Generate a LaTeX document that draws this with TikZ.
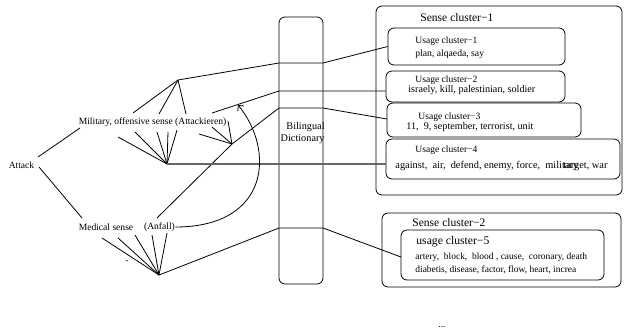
\documentclass[tikz,border=0pt]{standalone}
\usepackage{fontspec}
\setmainfont{Liberation Serif}
\usetikzlibrary{positioning,fit,arrows.meta}
\tikzset{>={Straight Barb[length=4bp,width=8bp]}}

\begin{document}
\begin{tikzpicture}[x=1bp,y=-1bp,line width=0.8bp,
    box/.style={draw,rounded corners=6bp,inner sep=0pt},
    txt/.style={inner sep=0pt,font=\fontsize{#1}{#1}\selectfont},
    txt/.default=9.6,
    hl/.style={draw=black!60,line width=1.3bp}]
\useasboundingbox (0,0) rectangle (624,329);

% words on the left
\node[txt] (attack) at (21.5,165) {Attack};
\node[txt] (mil) at (152.5,122) {Military, offensive sense (Attackieren)};
\node[txt] (med) at (106,227) {Medical sense};
\node[txt] (anfall) at (159.5,227) {(Anfall)};
\node[txt] (dash) at (127,262) {-};

% dictionary
\node[box,fit={(279,17) (323,284)}] (dict) {};
\node[txt=10.3,align=right,anchor=east] (dictlbl) at (325,133) {Bilingual\\[1bp]Dictionary};

% sense and usage clusters
\node[box,fit={(376,6) (622,195)}] (sc1) {};
\node[box,fit={(388,28) (565,65)}] (uc1) {};
\node[box,fit={(386,71) (565,102)}] (uc2) {};
\node[box,fit={(387,103) (581,137)}] (uc3) {};
\node[box,fit={(386,139) (620,179)}] (uc4) {};
\node[box,fit={(382,213) (621,287)}] (sc2) {};
\node[box,fit={(401,230) (604,280)}] (uc5) {};

\node[txt=11.6,anchor=west] (sc1lbl) at (420,18) {Sense cluster−1};
\node[txt,anchor=west] (uc1lbl) at (415,41) {Usage cluster−1};
\node[txt=9.7,anchor=west] (uc1w) at (415,54) {plan, alqaeda, say};
\node[txt,anchor=west] (uc2lbl) at (415,80) {Usage cluster−2};
\node[txt=10.2,anchor=west] (uc2w) at (408,90.5) {israely, kill, palestinian, soldier};
\node[txt,anchor=west] (uc3lbl) at (418,117) {Usage cluster−3};
\node[txt=10.2,anchor=west] (uc3w) at (406,127.5) {11,\ \ 9, september, terrorist, unit};
\node[txt,anchor=west] (uc4lbl) at (415,150.5) {Usage cluster−4};
\node[txt=10.4,anchor=west] (uc4w) at (395,166) {against,\ \ air,\ \ defend, enemy, force,\ \ \rlap{military}\hspace{18bp}target, war};
\node[txt=11.6,anchor=west] (sc2lbl) at (412,223) {Sense cluster−2};
\node[txt=11.7,anchor=west] (uc5lbl) at (416,242) {usage cluster−5};
\node[txt=9.5,anchor=west] (uc5w1) at (415,257) {artery,\ \ block,\ \ blood , cause,\ \ coronary, death};
\node[txt=9.5,anchor=west] (uc5w2) at (415,270) {diabetis, disease, factor, flow, heart, increa};
\node[txt,anchor=base] (more) at (442,327) {...};

% fan points
\coordinate (p1) at (178,80);
\coordinate (p2) at (232,144);
\coordinate (p3) at (167,164);
\coordinate (p4) at (159,275);
\coordinate (f11) at (133,113);
\coordinate (f12) at (159,114);
\coordinate (f13) at (186,114);
\coordinate (f21) at (199,134);
\coordinate (f22) at (212,127);
\coordinate (f23) at (228,121);
\coordinate (f31) at (118,137);
\coordinate (f32) at (135,132);
\coordinate (f33) at (157,132);
\coordinate (f34) at (168,132);
\coordinate (f35) at (177,130);
\coordinate (f41) at (102,238);
\coordinate (f42) at (118,238);
\coordinate (f43) at (135,235);
\coordinate (f44) at (152,235);
\coordinate (f45) at (167,233);
\coordinate (a1) at (38,157);
\coordinate (a2) at (39,167);
\coordinate (m1) at (80,128);
\coordinate (m2) at (82,218);
\coordinate (s2) at (212,113);
\coordinate (s3) at (157,218);
\coordinate (tip) at (238,105);

% crossing points on the dictionary
\coordinate (dl1) at (279,63);  \coordinate (dr1) at (323,63);
\coordinate (dl2) at (279,91);
\coordinate (dl3) at (279,108); \coordinate (dr3) at (323,108);
\coordinate (dl4) at (279,164);
\coordinate (dl5) at (279,228); \coordinate (dr5) at (323,228);

\draw (a1) -- (m1);
\draw (a2) -- (m2);

\draw (p1) -- (f11);
\draw (p1) -- (f12);
\draw (p1) -- (f13);
\draw (p2) -- (f21);
\draw (p2) -- (f22);
\draw (p2) -- (f23);
\draw (p3) -- (f31);
\draw (p3) -- (f32);
\draw (p3) -- (f33);
\draw (p3) -- (f34);
\draw (p3) -- (f35);
\draw (p4) -- (f41);
\draw (p4) -- (f42);
\draw (p4) -- (f43);
\draw (p4) -- (f44);
\draw (p4) -- (f45);

\draw (p1) -- (dl1) -- (dr1) -- (uc1.west);
\draw (s2) -- (dl2) -- (dl2 -| uc2.west);
\draw (s3) -- (p2) -- (dl3) -- (dr3) -- (387,119);
\draw[hl] (p3) -- (dl4) -- (dl4 -| uc4.west);
\draw (p4) -- (dl5) -- (dr5) -- (401,257);

\draw[->] (anfall.east) .. controls (270,227) and (275,150) .. (tip);
\end{tikzpicture}
\end{document}
